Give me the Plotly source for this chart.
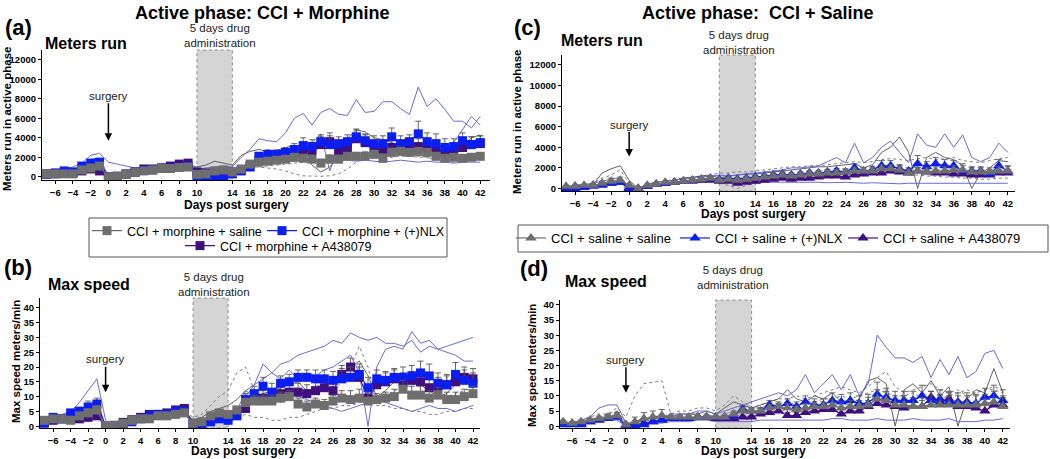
import plotly.graph_objects as go

FONT = "Arial, 'Liberation Sans', sans-serif"

# ---------------- data ----------------
days = [-7, -6, -5, -4, -3, -2, -1,
        0, 1, 2, 3, 4, 5, 6, 7, 8, 9,
        10, 11, 12, 13, 14, 15, 16,
        17, 18, 19, 20, 21, 22, 23, 24, 25, 26, 27, 28, 29, 30, 31, 32, 33, 34, 35, 36, 37, 38, 39, 40, 41, 42]
x_tickvals = [-6, -4, -2, 0, 2, 4, 6, 8, 10, 14, 16, 18, 20, 22, 24, 26, 28, 30, 32, 34, 36, 38, 40, 42]
meters_ticks = [0, 2000, 4000, 6000, 8000, 10000, 12000]
speed_ticks = [0, 5, 10, 15, 20, 25, 30, 35, 40]

# ----- panel (a): CCI + morphine, meters run -----
a_saline = [300, 300, 300, 300, 700, 900, 1100,
            0, 50, 250, 450, 600, 700, 850, 850, 950, 1000,
            250, 300, 600, 700, 500, 800, 1300,
            1500, 1600, 1700, 1800, 2000, 1900, 1800, 1400, 1800, 1800, 2100, 2100, 2100, 2300, 1900, 2500, 2600, 2500, 2600, 2500, 2100, 1900, 2000, 1900, 2000, 2100]
a_saline_err = [100, 100, 100, 100, 200, 300, 300,
                0, 0, 50, 100, 100, 100, 150, 150, 150, 150,
                100, 100, 150, 150, 100, 150, 200,
                250, 300, 300, 300, 350, 400, 400, 400, 450, 450, 400, 400, 450, 450, 500, 450, 450, 400, 400, 400, 350, 350, 350, 350, 300, 300]
a_nlx = [250, 400, 600, 500, 1100, 1400, 1500,
         0, 50, 250, 450, 650, 700, 900, 900, 1000, 1100,
         100, 100, 100, 100, 300, 600, 1000,
         2100, 2300, 2300, 2500, 2800, 3200, 3100, 3600, 3300, 3400, 3600, 4100, 3700, 3400, 3400, 4100, 3400, 3600, 4400, 3600, 3400, 3000, 3100, 3700, 3300, 3500]
a_nlx_err = [100, 150, 150, 150, 250, 300, 300,
             0, 0, 50, 100, 100, 150, 150, 150, 200, 200,
             50, 50, 50, 50, 100, 150, 250,
             400, 450, 450, 500, 600, 800, 700, 700, 900, 700, 700, 800, 700, 800, 800, 900, 800, 700, 1300, 900, 1000, 900, 800, 800, 800, 700]
a_a43 = [300, 300, 400, 400, 600, 800, 600,
         0, 50, 300, 500, 800, 800, 900, 1100, 1300, 1400,
         500, 400, 400, 400, 500, 700, 1100,
         1700, 1800, 1900, 2000, 2300, 2600, 2700, 3300, 3600, 2600, 3000, 3900, 3500, 3000, 2700, 3000, 3000, 3000, 3100, 3000, 2700, 2400, 2600, 3000, 3300, 3400]
a_a43_err = [100, 100, 100, 150, 200, 250, 300,
             0, 0, 50, 100, 150, 150, 150, 200, 200, 200,
             150, 150, 100, 100, 100, 150, 200,
             300, 350, 400, 400, 500, 600, 700, 800, 900, 600, 700, 900, 800, 700, 700, 800, 700, 700, 800, 700, 700, 700, 700, 700, 800, 800]
a_ind1 = [400, 600, 800, 1000, 1400, 2200, 2400,
          1500, 1300, 1100, 900, 1000, 1100, 1200, 1300, 1400, 1500,
          800, 900, 1000, 1100, 1000, 2000, 2800,
          3900, 3700, 3600, 4500, 6000, 6500, 5300, 6600, 7000, 6400, 6300, 7900, 6600, 6700, 7700, 7700, 7000, 6400, 9200, 7200, 8000, 6900, 5700, 5700, 5000, 6200]
a_ind2 = [300, 400, 600, 700, 1200, 1800, 1900,
          100, 100, 300, 500, 700, 800, 900, 900, 1000, 1100,
          200, 200, 300, 300, 400, 700, 1200,
          2000, 2200, 2300, 2700, 3000, 3400, 3500, 4400, 600, 3000, 3200, 3800, 3500, 3300, 1800, 3500, 3000, 2900, 3100, 3300, 2500, 2600, 3500, 4900, 6200, 5300]
a_ind3 = [300, 300, 400, 400, 800, 1000, 1200,
          0, 100, 300, 500, 600, 700, 900, 900, 1100, 1300,
          1000, 1200, 1600, 1400, 1200, 2200, 2600,
          2800, 2600, 2700, 3000, 3200, 2400, 1200, 500, 1000, 2100, 3900, 4800, 4600, 4000, 3800, 3500, 3200, 3000, 2900, 3100, 3000, 2800, 2500, 3200, 4000, 4300]
a_ind4 = [200, 200, 200, 300, 500, 700, 800,
          0, 0, 200, 300, 400, 600, 700, 700, 800, 900,
          300, 300, 500, 600, 500, 800, 1000,
          1000, 900, 800, 600, 300, 100, 50, 50, 100, 300, 800, 1500, 2000, 2300, 2500, 2400, 2300, 2200, 2100, 2000, 1700, 1500, 1500, 1600, 1700, 1800]
a_ind5 = [200, 200, 300, 300, 500, 600, 700,
          0, 100, 200, 300, 400, 500, 500, 600, 600, 700,
          400, 400, 500, 600, 600, 700, 900,
          1000, 1100, 1200, 1300, 1400, 1500, 1500, 1600, 1700, 1700, 1800, 1900, 2000, 2000, 1900, 2000, 2100, 2100, 2000, 2000, 1800, 1700, 1600, 1700, 1700, 1800]
a_ind6 = [100, 200, 300, 300, 500, 700, 900,
          0, 100, 200, 300, 500, 500, 600, 700, 800, 900,
          300, 200, 300, 300, 400, 600, 900,
          1200, 1300, 1400, 1500, 1600, 1700, 1600, 1700, 1800, 1600, 1700, 1600, 1700, 1600, 1500, 1600, 1700, 1600, 1500, 1600, 1500, 1500, 1400, 1500, 1500, 1500]

# ----- panel (b): CCI + morphine, max speed -----
b_saline = [2, 2.5, 2.5, 2, 3.5, 4.5, 5.5,
            0, 0.3, 1, 2, 2.5, 2.5, 3.5, 3.5, 4, 4.5,
            1, 1.5, 3.5, 4.5, 4, 5.5, 8,
            8.5, 8.5, 8.5, 9.5, 10, 7.5, 6.5, 7.5, 7, 8.5, 9.5, 9, 9.5, 8.5, 9, 9.5, 10, 12.5, 10.5, 10.5, 9.5, 10.5, 9, 9, 10, 11]
b_saline_err = [0.5, 0.5, 0.5, 0.5, 1, 1.5, 1.5,
                0, 0, 0.3, 0.5, 0.5, 0.5, 0.5, 0.5, 0.5, 0.5,
                0.5, 0.5, 1, 1, 1, 1, 1.5,
                2, 2, 2, 2, 2, 2, 2, 2, 2, 2, 2.5, 3, 3, 3, 2, 2, 2.5, 3, 3, 3, 2.5, 2.5, 2.5, 2.5, 2.5, 2.5]
b_nlx = [1, 3, 2.5, 4.5, 5, 6.5, 7.5,
         0, 0, 0.5, 1.5, 2.5, 3.5, 4, 4, 5, 5,
         0.5, 0, 1.5, 2.5, 2, 3.5, 9,
         11, 13.5, 11.5, 14.5, 15, 16.5, 16.5, 16, 16, 15.5, 16, 16.5, 17.5, 13, 16, 15.5, 16.5, 16.5, 17, 18, 17, 14.5, 14, 17.5, 15.5, 14.5]
b_nlx_err = [0.5, 0.5, 0.5, 1, 1.5, 2, 2,
             0, 0, 0.3, 0.5, 0.5, 0.5, 0.5, 0.5, 0.5, 0.5,
             0.3, 0.3, 0.5, 0.5, 0.5, 1, 2,
             2.5, 3, 3, 2.5, 2.5, 2.5, 2.5, 3, 3, 3, 3.5, 3.5, 3.5, 3.5, 3, 3, 3, 3.5, 3.5, 4, 4, 3.5, 3.5, 4, 3.5, 3.5]
b_a43 = [1.5, 2, 2.5, 3, 2.5, 3, 3.5,
         0, 0.3, 1.3, 2.2, 3, 4, 4, 4.5, 5.5, 6,
         1, 1, 2.5, 3.5, 3, 4, 6,
         9, 9.5, 9, 11, 11.5, 11.5, 11, 12, 13, 12, 17.5, 20, 16.5, 9.5, 14, 15, 16, 15, 15.5, 15, 13, 13.5, 14, 15, 16.5, 16]
b_a43_err = [0.5, 0.5, 0.5, 0.5, 1, 1, 1.5,
             0, 0, 0.3, 0.5, 0.5, 0.5, 0.5, 0.5, 0.5, 0.5,
             0.5, 0.5, 1, 1, 1, 1, 1.5,
             2, 2.5, 2.5, 3, 3, 3, 3, 3, 3, 3, 3, 3, 3.5, 3, 3, 3, 3, 3, 3, 3, 3, 3, 3, 3, 3.5, 3.5]
b_ind1 = [2, 3, 4, 5, 8, 12, 16,
          2, 0, 1, 2, 3, 4, 5, 5, 5, 6,
          1, 1, 2, 3, 3, 5, 12,
          14, 16, 18, 21, 22, 24, 25, 26, 27, 29, 28, 31.5, 30, 29, 30, 28, 28, 27, 29, 25, 27, 26, 25, 24, 22, 22]
b_ind2 = [2, 3, 3, 4, 6, 7, 9,
          0, 0, 1, 2, 3, 4, 4, 5, 5, 6,
          1, 0, 2, 3, 2, 4, 10,
          14, 21, 18, 16, 19, 16, 18, 17, 19, 20, 22, 24, 18, 0, 20, 26, 27, 26, 32, 28, 29, 26, 27, 28, 29, 30]
b_ind3 = [2, 2, 2, 3, 4, 5, 6,
          0, 0, 1, 2, 3, 4, 4, 4, 5, 5,
          3, 4, 7, 10, 12, 18, 20,
          12, 10, 9, 8, 9, 10, 12, 14, 13, 12, 15, 20, 27, 20, 8, 10, 12, 13, 14, 15, 13, 12, 10, 11, 12, 13]
b_ind4 = [1, 1, 2, 2, 2, 3, 3,
          0, 0, 1, 1, 2, 2, 3, 3, 3, 4,
          1, 1, 2, 2, 2, 3, 4,
          3, 3, 2, 2, 3, 3, 4, 5, 6, 6, 7, 7, 8, 8, 7, 7, 6, 6, 5, 5, 4, 4, 5, 5, 6, 6]
b_ind5 = [2, 2, 3, 3, 4, 5, 7,
          0, 0, 1, 2, 3, 3, 4, 4, 5, 5,
          2, 3, 5, 6, 7, 9, 12,
          10, 11, 12, 13, 14, 15, 12, 13, 14, 15, 18, 20, 22, 17, 10, 12, 15, 18, 16, 14, 12, 10, 11, 14, 18, 17]
b_ind6 = [1, 2, 2, 3, 4, 5, 6,
          0, 0, 1, 2, 3, 3, 4, 4, 4, 5,
          0, 0, 1, 2, 2, 3, 7,
          9, 10, 9, 10, 11, 10, 9, 8, 7, 6, 5, 6, 7, 8, 9, 8, 7, 6, 5, 6, 7, 6, 6, 5, 6, 7]

# ----- panel (c): CCI + saline, meters run -----
c_saline = [200, 200, 300, 300, 500, 700, 800,
            300, 0, 300, 400, 600, 600, 700, 800, 900, 1000,
            800, 900, 800, 900, 1000, 1100, 1200,
            1300, 1200, 1300, 1400, 1400, 1500, 1500, 1600, 1700, 1700, 1700, 1900, 1900, 1800, 1500, 1700, 1600, 1700, 1700, 1800, 1800, 1600, 1600, 1600, 1700, 1700]
c_saline_err = [100, 100, 100, 100, 200, 300, 300,
                100, 0, 100, 100, 100, 100, 100, 100, 150, 150,
                150, 150, 150, 150, 150, 200, 200,
                200, 200, 200, 200, 250, 250, 250, 250, 300, 300, 300, 400, 400, 400, 350, 350, 400, 400, 400, 400, 400, 400, 400, 400, 450, 450]
c_nlx = [0, 0, 100, 200, 300, 500, 600,
         0, 0, 200, 400, 500, 600, 700, 800, 900, 1000,
         900, 1000, 900, 1000, 1100, 1200, 1300,
         1400, 1300, 1400, 1500, 1500, 1600, 1700, 1600, 2000, 1700, 1800, 2200, 2200, 1900, 1700, 2400, 2100, 2400, 2200, 2200, 1700, 1700, 1700, 1400, 2200, 1700]
c_nlx_err = [50, 50, 50, 100, 100, 150, 150,
             50, 0, 50, 100, 100, 100, 100, 100, 150, 150,
             150, 150, 150, 150, 150, 150, 200,
             200, 200, 200, 200, 250, 250, 250, 300, 400, 300, 300, 500, 500, 400, 300, 800, 500, 600, 600, 500, 700, 400, 400, 400, 600, 500]
c_a43 = [100, 200, 200, 300, 400, 500, 600,
         100, 0, 200, 400, 500, 600, 700, 700, 800, 800,
         700, 700, 500, 600, 700, 800, 900,
         1000, 900, 1000, 1000, 1100, 1200, 1200, 1100, 1300, 1400, 1500, 1500, 1700, 1600, 1500, 1700, 1600, 1500, 1500, 1400, 1400, 1300, 1300, 1300, 1500, 1500]
c_a43_err = [50, 50, 50, 100, 100, 100, 150,
             50, 0, 50, 100, 100, 100, 100, 100, 100, 100,
             100, 100, 100, 100, 100, 100, 150,
             150, 150, 150, 150, 150, 200, 200, 200, 200, 200, 250, 250, 300, 300, 300, 300, 300, 300, 300, 300, 300, 300, 300, 300, 300, 300]
c_ind1 = [200, 300, 400, 500, 700, 900, 1000,
          200, 0, 400, 600, 700, 800, 900, 1000, 1100, 1200,
          1300, 1200, 1300, 1400, 1500, 1600, 1700,
          1800, 2000, 2000, 2100, 2200, 2600, 3000, 2500, 4400, 2500, 3000, 4000, 4600, 3500, 2500, 5300, 4200, 4000, 5300, 4000, 5200, 3000, 2600, 3000, 4400, 3500]
c_ind2 = [200, 200, 300, 400, 1500, 1900, 2200,
          800, 0, 400, 600, 700, 800, 1000, 1100, 1200, 1300,
          1000, 1200, 1300, 1400, 1400, 1500, 1600,
          1700, 1800, 1900, 2000, 2100, 2100, 2200, 2300, 2400, 2000, 2300, 3500, 4000, 5000, 3500, 0, 3000, 3500, 3000, 2800, 2200, 0, 1500, 2000, 2700, 2600]
c_ind3 = [100, 100, 200, 200, 300, 400, 500,
          100, 0, 200, 300, 400, 500, 500, 600, 600, 700,
          600, 600, 500, 500, 500, 600, 600,
          650, 600, 650, 600, 600, 550, 600, 600, 550, 500, 550, 500, 500, 450, 500, 500, 450, 500, 500, 450, 500, 450, 500, 450, 500, 500]
c_ind4 = [300, 300, 400, 500, 1000, 1300, 1800,
          500, 0, 400, 600, 700, 900, 1000, 1100, 1200, 1300,
          1500, 1500, 1600, 1600, 1700, 1800, 1900,
          2000, 2100, 2100, 2200, 2200, 2300, 2400, 2500, 2600, 2500, 2600, 2800, 2900, 2800, 2700, 2900, 3000, 2800, 2900, 3000, 2700, 2600, 2500, 2700, 2900, 3000]
c_ind5 = [100, 200, 200, 300, 400, 500, 600,
          100, 0, 200, 300, 400, 500, 600, 600, 700, 700,
          500, 300, 0, 300, 500, 700, 800,
          900, 1000, 1000, 1100, 1100, 1200, 1200, 1300, 1300, 1400, 1400, 1500, 1500, 1400, 1300, 1300, 1200, 1200, 1100, 1100, 1000, 1000, 900, 900, 1000, 1000]

# ----- panel (d): CCI + saline, max speed -----
d_saline = [1.5, 1, 1.5, 2, 2.5, 3, 3.5,
            0.5, 1.5, 2.5, 3, 3.5, 3, 3, 3, 3, 3,
            3, 3, 4, 5, 5, 5, 6,
            6.5, 6, 5.5, 6, 6.5, 6.5, 7, 6, 6.5, 6.5, 7, 9, 8.5, 7, 7, 6.5, 6.5, 7, 7, 7, 7, 7, 7, 7.5, 8, 6.5]
d_saline_err = [0.5, 0.3, 0.5, 0.5, 0.8, 1, 1,
                0.5, 1.5, 2, 2, 2, 0.5, 0.5, 0.5, 0.5, 0.5,
                0.5, 0.5, 1, 1, 1, 1, 1,
                1, 1.5, 1, 1.5, 1.5, 1.5, 2, 2, 2, 2, 2.5, 3, 3, 3, 3, 3, 3, 3, 3, 3, 3, 3, 3, 3, 3.5, 3.5]
d_nlx = [0.5, 0.5, 0.5, 1.5, 2, 2.5, 3,
         0, 0, 0.5, 1.5, 2, 2.5, 2.5, 2.5, 3, 3,
         3, 3, 3.5, 5.5, 5, 5, 7,
         6.5, 7.5, 6.5, 8, 7, 7, 8.5, 8, 8.5, 7.5, 7.5, 10.5, 9.5, 8.5, 8.5, 8.5, 10, 8.5, 9, 8, 8, 8, 7.5, 9.5, 10, 8.5]
d_nlx_err = [0.3, 0.3, 0.3, 0.5, 0.8, 1, 1,
             0.2, 0.2, 0.3, 0.5, 0.5, 0.5, 0.5, 0.5, 0.5, 0.5,
             0.5, 0.5, 1, 1, 1, 1, 1.5,
             1.5, 1.5, 1.5, 2, 2, 2, 2.5, 2.5, 2.5, 2.5, 3, 4, 3, 3, 3, 3, 3.5, 3, 3, 3, 3, 3, 3, 3, 3.5, 3.5]
d_a43 = [1, 1, 1, 1.5, 2, 2.5, 3,
         0.5, 0.5, 1, 1.5, 2, 2.5, 2.5, 2.5, 3, 3,
         2.5, 2.5, 2.5, 3, 3, 4, 4.5,
         5, 3.5, 3.5, 4.5, 5, 5.5, 5.5, 4, 5, 5, 6.5, 7.5, 7, 6.5, 6, 6.5, 6.5, 9.5, 8, 9, 6.5, 6.5, 6, 5, 7, 7]
d_a43_err = [0.3, 0.3, 0.3, 0.5, 0.5, 0.8, 0.8,
             0.2, 0.2, 0.3, 0.5, 0.5, 0.5, 0.5, 0.5, 0.5, 0.5,
             0.5, 0.5, 0.5, 0.5, 0.5, 1, 1,
             1, 1, 1, 1, 1, 1.5, 1.5, 1.5, 1.5, 1.5, 2, 2, 2, 2, 2, 2, 2, 2, 2.5, 2.5, 2, 2, 2, 2, 2.5, 2.5]
d_ind1 = [1, 1, 2, 3, 6, 7, 7,
          1, 1, 2, 3, 3, 4, 4, 4, 5, 5,
          4, 5, 6, 7, 8, 9, 10,
          11, 10, 12, 17, 11, 14, 17, 12, 17, 10, 14, 30, 26, 22.5, 22.5, 21, 23, 16, 22, 17, 23, 16, 18, 24, 25, 19]
d_ind2 = [2, 1, 2, 3, 4, 4, 6,
          3, 10, 14, 14.5, 15, 4, 5, 5, 6, 6,
          5, 7, 10, 8, 6, 7, 8,
          9, 9, 10, 9, 10, 11, 12, 13, 12, 11, 13, 16, 18, 13, 11, 12, 13, 14, 12, 11, 12, 10, 11, 12, 13, 12]
d_ind3 = [1, 1, 2, 2, 3, 3, 4,
          0, 1, 2, 3, 3, 3, 4, 4, 4, 5,
          4, 6, 8, 7, 6, 7, 8,
          9, 12, 9, 8, 10, 9, 11, 8, 7, 9, 15, 16, 14, 0, 12, 14, 11, 15, 10, 13, 0, 9, 12, 11, 19, 11]
d_ind4 = [0.5, 0.5, 1, 1, 1.5, 2, 2,
          0, 0, 0.5, 1, 1, 1.5, 1.5, 1.5, 2, 2,
          1.5, 1.5, 1.5, 1.5, 1.5, 2, 2,
          2, 2, 2, 2, 2, 2, 2.5, 2.5, 2, 2, 2, 2.5, 2, 2, 2, 2.5, 2, 2, 2, 2.5, 1.5, 1.5, 1.5, 2, 2, 2.5]
d_ind5 = [1, 1, 2, 2, 3, 4, 5,
          1, 1, 2, 2, 3, 3, 3, 4, 4, 4,
          3, 4, 5, 5, 6, 6, 7,
          7, 8, 7, 8, 8, 9, 9, 10, 9, 10, 11, 12, 11, 10, 10, 11, 9, 10, 9, 10, 11, 12, 11, 12, 12, 11]

# ---------------- styling ----------------
GRAY = "#6e6e6e"
BLUE = "#0a1ef0"
PURPLE = "#3f0f7f"
IND_BLUE = "#6a6ad2"
IND_DARK = "#4f4f4f"
IND_DOT = "#7d7d7d"

W, H = 1050, 459


def px(x):
    return x / W


def py(y):
    return 1 - y / H


fig = go.Figure()

panels = {
    "a": dict(xa="x", ya="y"),
    "b": dict(xa="x2", ya="y2"),
    "c": dict(xa="x3", ya="y3"),
    "d": dict(xa="x4", ya="y4"),
}


def add_ind(panel, vals, kind):
    xa, ya = panels[panel]["xa"], panels[panel]["ya"]
    if kind == "blue":
        line = dict(color=IND_BLUE, width=1)
    elif kind == "dark":
        line = dict(color=IND_DARK, width=0.9)
    else:
        line = dict(color=IND_DOT, width=1, dash="dot")
    fig.add_trace(go.Scatter(x=days, y=vals, mode="lines", line=line, xaxis=xa, yaxis=ya,
                             showlegend=False, hoverinfo="skip"))


def add_mean(panel, vals, err, color, symbol, name, legend):
    xa, ya = panels[panel]["xa"], panels[panel]["ya"]
    fig.add_trace(go.Scatter(
        x=days, y=vals, mode="lines+markers", name=name, xaxis=xa, yaxis=ya,
        line=dict(color=color, width=1.2),
        marker=dict(symbol=symbol, size=9 if symbol == "square" else 10, color=color,
                    line=dict(width=0)),
        error_y=dict(type="data", array=err, arrayminus=[0] * len(err), symmetric=False,
                     color="#555555", thickness=0.9, width=3),
        legend=legend if legend else "legend", showlegend=legend is not None))


# panel a
for v, k in [(a_ind4, "dot"), (a_ind5, "dot"), (a_ind3, "dark"), (a_ind6, "blue"), (a_ind2, "blue"), (a_ind1, "blue")]:
    add_ind("a", v, k)
add_mean("a", a_a43, a_a43_err, PURPLE, "square", "CCI + morphine + A438079", "legend3")
add_mean("a", a_nlx, a_nlx_err, BLUE, "square", "CCI + morphine + (+)NLX", "legend2")
add_mean("a", a_saline, a_saline_err, GRAY, "square", "CCI + morphine + saline", "legend")

# panel b
for v, k in [(b_ind4, "dot"), (b_ind3, "dot"), (b_ind5, "dark"), (b_ind6, "blue"), (b_ind2, "blue"), (b_ind1, "blue")]:
    add_ind("b", v, k)
add_mean("b", b_a43, b_a43_err, PURPLE, "square", "CCI + morphine + A438079", None)
add_mean("b", b_nlx, b_nlx_err, BLUE, "square", "CCI + morphine + (+)NLX", None)
add_mean("b", b_saline, b_saline_err, GRAY, "square", "CCI + morphine + saline", None)

# panel c
for v, k in [(c_ind5, "dot"), (c_ind4, "dot"), (c_ind2, "dark"), (c_ind3, "blue"), (c_ind1, "blue")]:
    add_ind("c", v, k)
add_mean("c", c_a43, c_a43_err, PURPLE, "triangle-up", "CCI + saline + A438079", "legend6")
add_mean("c", c_nlx, c_nlx_err, BLUE, "triangle-up", "CCI + saline + (+)NLX", "legend5")
add_mean("c", c_saline, c_saline_err, GRAY, "triangle-up", "CCI + saline + saline", "legend4")

# panel d
for v, k in [(d_ind5, "dot"), (d_ind2, "dot"), (d_ind3, "dark"), (d_ind4, "blue"), (d_ind1, "blue")]:
    add_ind("d", v, k)
add_mean("d", d_a43, d_a43_err, PURPLE, "triangle-up", "CCI + saline + A438079", None)
add_mean("d", d_nlx, d_nlx_err, BLUE, "triangle-up", "CCI + saline + (+)NLX", None)
add_mean("d", d_saline, d_saline_err, GRAY, "triangle-up", "CCI + saline + saline", None)

tickfont = dict(family=FONT, size=9.5, color="black", weight="bold")
common = dict(showline=True, linecolor="black", linewidth=1.2, ticks="outside", ticklen=3,
              tickwidth=1.2, tickcolor="black", showgrid=False, zeroline=False, tickfont=tickfont,
              automargin=False)

# (x-domain px, y-domain px (top, bottom), x-range, y-range, y ticks)
geo = {
    "a": ((42, 490), (50, 180), (-7.5, 43.1), (-330, 13000), meters_ticks),
    "b": ((40, 480), (298, 428), (-7.5, 42.8), (-0.6, 43.3), speed_ticks),
    "c": ((562, 1015), (55, 191), (-7.45, 42.8), (-250, 12960), meters_ticks),
    "d": ((560, 1010), (300, 428), (-7.35, 42.8), (-0.6, 41.6), speed_ticks),
}
layout_axes = {}
for i, p in enumerate(["a", "b", "c", "d"]):
    (x0, x1), (ytop, ybot), xr, yr, yt = geo[p]
    sfx = "" if i == 0 else str(i + 1)
    layout_axes["xaxis" + sfx] = dict(
        common, domain=[px(x0), px(x1)], range=list(xr), tickvals=x_tickvals, anchor="y" + sfx)
    layout_axes["yaxis" + sfx] = dict(
        common, domain=[py(ybot), py(ytop)], range=list(yr), tickvals=yt, tickformat="d",
        anchor="x" + sfx)
    fig.add_shape(type="rect", xref="x" + sfx, yref="y" + sfx + " domain", x0=10, x1=14, y0=0, y1=1,
                  fillcolor="#d4d4d4", line=dict(color="#8a8a8a", width=1, dash="dot"), layer="below")

fig.update_layout(**layout_axes)

BOLD = dict(family=FONT, color="black", weight="bold")
ann = []
# main titles
ann.append(dict(text="Active phase: CCI + Morphine", x=px(262), y=py(13), font=dict(BOLD, size=18)))
ann.append(dict(text="Active phase:  CCI + Saline", x=px(758), y=py(13), font=dict(BOLD, size=18)))
# panel letters
for t, xx, yy in [("(a)", 18, 27), ("(b)", 18, 267), ("(c)", 527, 27), ("(d)", 534, 268)]:
    ann.append(dict(text=t, x=px(xx), y=py(yy), font=dict(BOLD, size=22)))
# sub titles
for t, xx, yy in [("Meters run", 43, 43), ("Max speed", 46, 284), ("Meters run", 559, 40), ("Max speed", 563, 281)]:
    ann.append(dict(text=t, x=px(xx), y=py(yy), xanchor="left", font=dict(BOLD, size=16)))
# x axis titles
for xx, yy in [(237, 205), (243, 451), (753, 214), (753, 451)]:
    ann.append(dict(text="Days post surgery", x=px(xx), y=py(yy), font=dict(BOLD, size=12)))
# y axis titles
for t, xx, yy in [("Meters run in active phase", 7, 119), ("Max speed meters/min", 16, 362),
                  ("Meters run in active phase", 517, 122), ("Max speed meters/min", 532, 366)]:
    ann.append(dict(text=t, x=px(xx), y=py(yy), textangle=-90, font=dict(BOLD, size=11.5)))
# drug window labels
for xx, yy in [(220, 35), (214, 284), (739, 42), (733, 277)]:
    ann.append(dict(text="5 days drug<br>administration", x=px(xx), y=py(yy),
                    font=dict(family=FONT, size=11.5, color="#222222")))
for a in ann:
    a.update(xref="paper", yref="paper", showarrow=False)
    a.setdefault("xanchor", "center")
    a["yanchor"] = "middle"
    fig.add_annotation(**a)

# surgery arrows
for sfx, ytip, ay in [("", 3700, -45), ("2", 11.5, -33), ("3", 3100, -32), ("4", 11.0, -33)]:
    fig.add_annotation(x=0, y=ytip, xref="x" + sfx, yref="y" + sfx, text="surgery", showarrow=True,
                       arrowhead=2, arrowsize=1, arrowwidth=1.5, arrowcolor="black", ax=0, ay=ay,
                       font=dict(family=FONT, size=11.5, color="#222222"))

# legend boxes
fig.add_shape(type="rect", xref="paper", yref="paper", x0=px(89), x1=px(447), y0=py(257), y1=py(218),
              line=dict(color="#555555", width=1), fillcolor="rgba(0,0,0,0)")
fig.add_shape(type="rect", xref="paper", yref="paper", x0=px(518), x1=px(1048), y0=py(252), y1=py(225),
              line=dict(color="#555555", width=1), fillcolor="rgba(0,0,0,0)")

legfont_a = dict(family=FONT, size=12.5, color="black")
legfont_c = dict(family=FONT, size=13, color="black")
leg_common = dict(bgcolor="rgba(0,0,0,0)", borderwidth=0, yanchor="middle", xanchor="left",
                  orientation="h", itemwidth=30)
fig.update_layout(
    legend=dict(leg_common, font=legfont_a, x=px(87), y=py(231)),
    legend2=dict(leg_common, font=legfont_a, x=px(262), y=py(231)),
    legend3=dict(leg_common, font=legfont_a, x=px(180), y=py(246)),
    legend4=dict(leg_common, font=legfont_c, x=px(511), y=py(238)),
    legend5=dict(leg_common, font=legfont_c, x=px(675), y=py(238)),
    legend6=dict(leg_common, font=legfont_c, x=px(843), y=py(238)),
)

fig.update_layout(width=W, height=H, margin=dict(l=0, r=0, t=0, b=0, autoexpand=False),
                  paper_bgcolor="white", plot_bgcolor="white",
                  font=dict(family=FONT, color="black"))

fig.write_html("out.html", config={"displayModeBar": False},
               post_script="document.body.style.margin='0px';")
